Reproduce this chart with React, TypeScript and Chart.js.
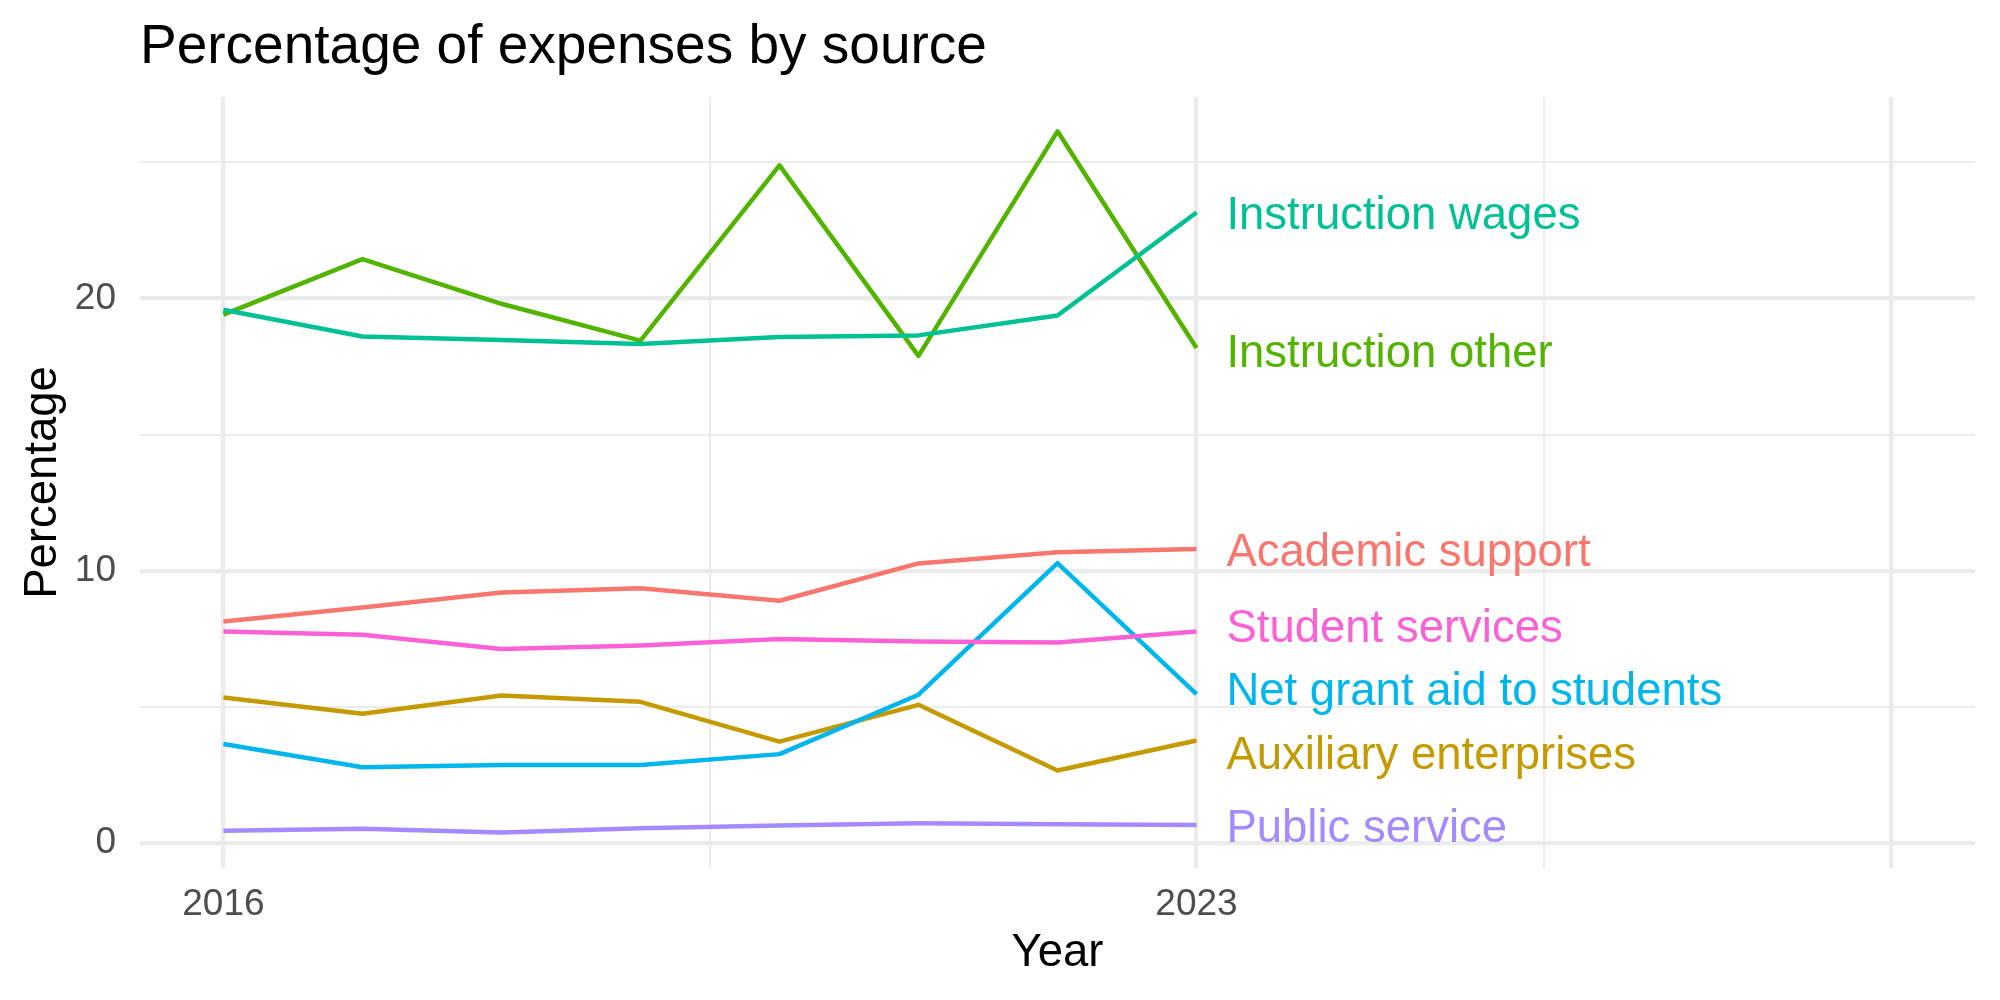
import React, { useEffect, useRef } from "react";
import { Chart, registerables } from "chart.js";

Chart.register(...registerables);

// ---- data ----
const years = [2016, 2017, 2018, 2019, 2020, 2021, 2022, 2023];
const seriesNames = [
  "Academic support",
  "Auxiliary enterprises",
  "Instruction other",
  "Instruction wages",
  "Net grant aid to students",
  "Public service",
  "Student services",
];
const academicSupport = [8.14, 8.65, 9.2, 9.36, 8.9, 10.27, 10.68, 10.8];
const auxiliaryEnterprises = [5.35, 4.75, 5.42, 5.19, 3.73, 5.08, 2.67, 3.77];
const instructionOther = [19.4, 21.44, 19.8, 18.45, 24.88, 17.89, 26.13, 18.18];
const instructionWages = [19.58, 18.6, 18.47, 18.32, 18.58, 18.64, 19.37, 23.15];
const netGrantAid = [3.64, 2.79, 2.87, 2.87, 3.27, 5.45, 10.28, 5.47];
const publicService = [0.46, 0.53, 0.39, 0.55, 0.65, 0.73, 0.7, 0.67];
const studentServices = [7.77, 7.65, 7.13, 7.26, 7.5, 7.4, 7.37, 7.77];
const seriesValues = [
  academicSupport,
  auxiliaryEnterprises,
  instructionOther,
  instructionWages,
  netGrantAid,
  publicService,
  studentServices,
];
// repelled label positions (y value of each end label)
const labelY = [10.77, 3.34, 18.09, 23.13, 5.68, 0.65, 7.99];
const seriesColors = ["#F8766D", "#C49A00", "#53B400", "#00C094", "#00B6EB", "#A58AFF", "#FB61D7"];

const xBreaks = [2016, 2019.5, 2023, 2025.5, 2028];
const xBreakLabels = ["2016", "", "2023", "", ""];
const xMajor = [2016, 2023, 2028];
const yBreaks = [0, 5, 10, 15, 20, 25];
const yBreakLabels = ["0", "", "10", "", "20", ""];
const yMajor = [0, 10, 20];

const TITLE = "Percentage of expenses by source";
const X_TITLE = "Year";
const Y_TITLE = "Percentage";
const FONT = '"Liberation Sans", Arial, Helvetica, sans-serif';
const LABEL_NUDGE = 0.215;
const LABEL_SIZE = 45.5;
const GRID = "#EBEBEB";

const endLabelPlugin = {
  id: "endLabels",
  afterDatasetsDraw(chart: any) {
    const ctx = chart.ctx;
    const xs = chart.scales.x;
    const ys = chart.scales.y;
    const lastYear = years[years.length - 1];
    ctx.save();
    ctx.font = `${LABEL_SIZE}px ${FONT}`;
    ctx.textAlign = "left";
    ctx.textBaseline = "alphabetic";
    seriesNames.forEach((name, i) => {
      ctx.fillStyle = seriesColors[i];
      // vertically centre the capitals on the label position
      ctx.fillText(
        name,
        xs.getPixelForValue(lastYear + LABEL_NUDGE),
        ys.getPixelForValue(labelY[i]) + LABEL_SIZE * 0.358
      );
    });
    ctx.fillStyle = "#000000";
    ctx.font = `55px ${FONT}`;
    ctx.fillText(TITLE, chart.chartArea.left, 63);
    ctx.restore();
  },
};

export default function App() {
  const canvasRef = useRef<HTMLCanvasElement | null>(null);

  useEffect(() => {
    if (!canvasRef.current) return;
    const datasets = seriesNames
      .map((name, i) => ({
        label: name,
        data: years.map((x, j) => ({ x, y: seriesValues[i][j] })),
        borderColor: seriesColors[i],
        backgroundColor: seriesColors[i],
        borderWidth: 4.5,
        pointRadius: 0,
        tension: 0,
        fill: false,
        borderJoinStyle: "round" as const,
        borderCapStyle: "butt" as const,
      }))
      .reverse();

    const chart = new Chart(canvasRef.current, {
      type: "line",
      data: { datasets },
      options: {
        animation: false,
        responsive: false,
        devicePixelRatio: 1,
        layout: { padding: { top: 97, right: 25, bottom: 0, left: 0 } },
        plugins: {
          legend: { display: false },
          tooltip: { enabled: false },
          title: { display: false },
        },
        scales: {
          x: {
            type: "linear",
            min: 2015.4,
            max: 2028.6,
            afterBuildTicks: (s: any) => {
              s.ticks = xBreaks.map((v) => ({ value: v }));
            },
            afterFit: (s: any) => {
              s.height = 132;
            },
            border: { display: false },
            grid: {
              color: GRID,
              drawTicks: false,
              lineWidth: (c: any) => (c.tick && xMajor.includes(c.tick.value) ? 4.2 : 2.1),
            },
            ticks: {
              autoSkip: false,
              maxRotation: 0,
              padding: 15,
              color: "#4D4D4D",
              font: { family: FONT, size: 37 },
              callback: (_v: any, i: number) => xBreakLabels[i],
            },
            title: {
              display: true,
              text: X_TITLE,
              color: "#000000",
              font: { family: FONT, size: 45.5 },
              padding: 19,
            },
          },
          y: {
            type: "linear",
            min: -0.91,
            max: 27.39,
            afterBuildTicks: (s: any) => {
              s.ticks = yBreaks.map((v) => ({ value: v }));
            },
            afterFit: (s: any) => {
              s.width = 140;
            },
            border: { display: false },
            grid: {
              color: GRID,
              drawTicks: false,
              lineWidth: (c: any) => (c.tick && yMajor.includes(c.tick.value) ? 4.2 : 2.1),
            },
            ticks: {
              autoSkip: false,
              padding: 24,
              color: "#4D4D4D",
              font: { family: FONT, size: 37 },
              callback: (_v: any, i: number) => yBreakLabels[i],
            },
            title: {
              display: true,
              text: Y_TITLE,
              color: "#000000",
              font: { family: FONT, size: 45.5 },
              padding: 16,
            },
          },
        },
      },
      plugins: [endLabelPlugin],
    });
    return () => chart.destroy();
  }, []);

  return (
    <div style={{ position: "fixed", left: 0, top: 0, width: 2000, height: 1000, background: "#FFFFFF" }}>
      <canvas ref={canvasRef} width={2000} height={1000} style={{ width: 2000, height: 1000, display: "block" }} />
    </div>
  );
}
